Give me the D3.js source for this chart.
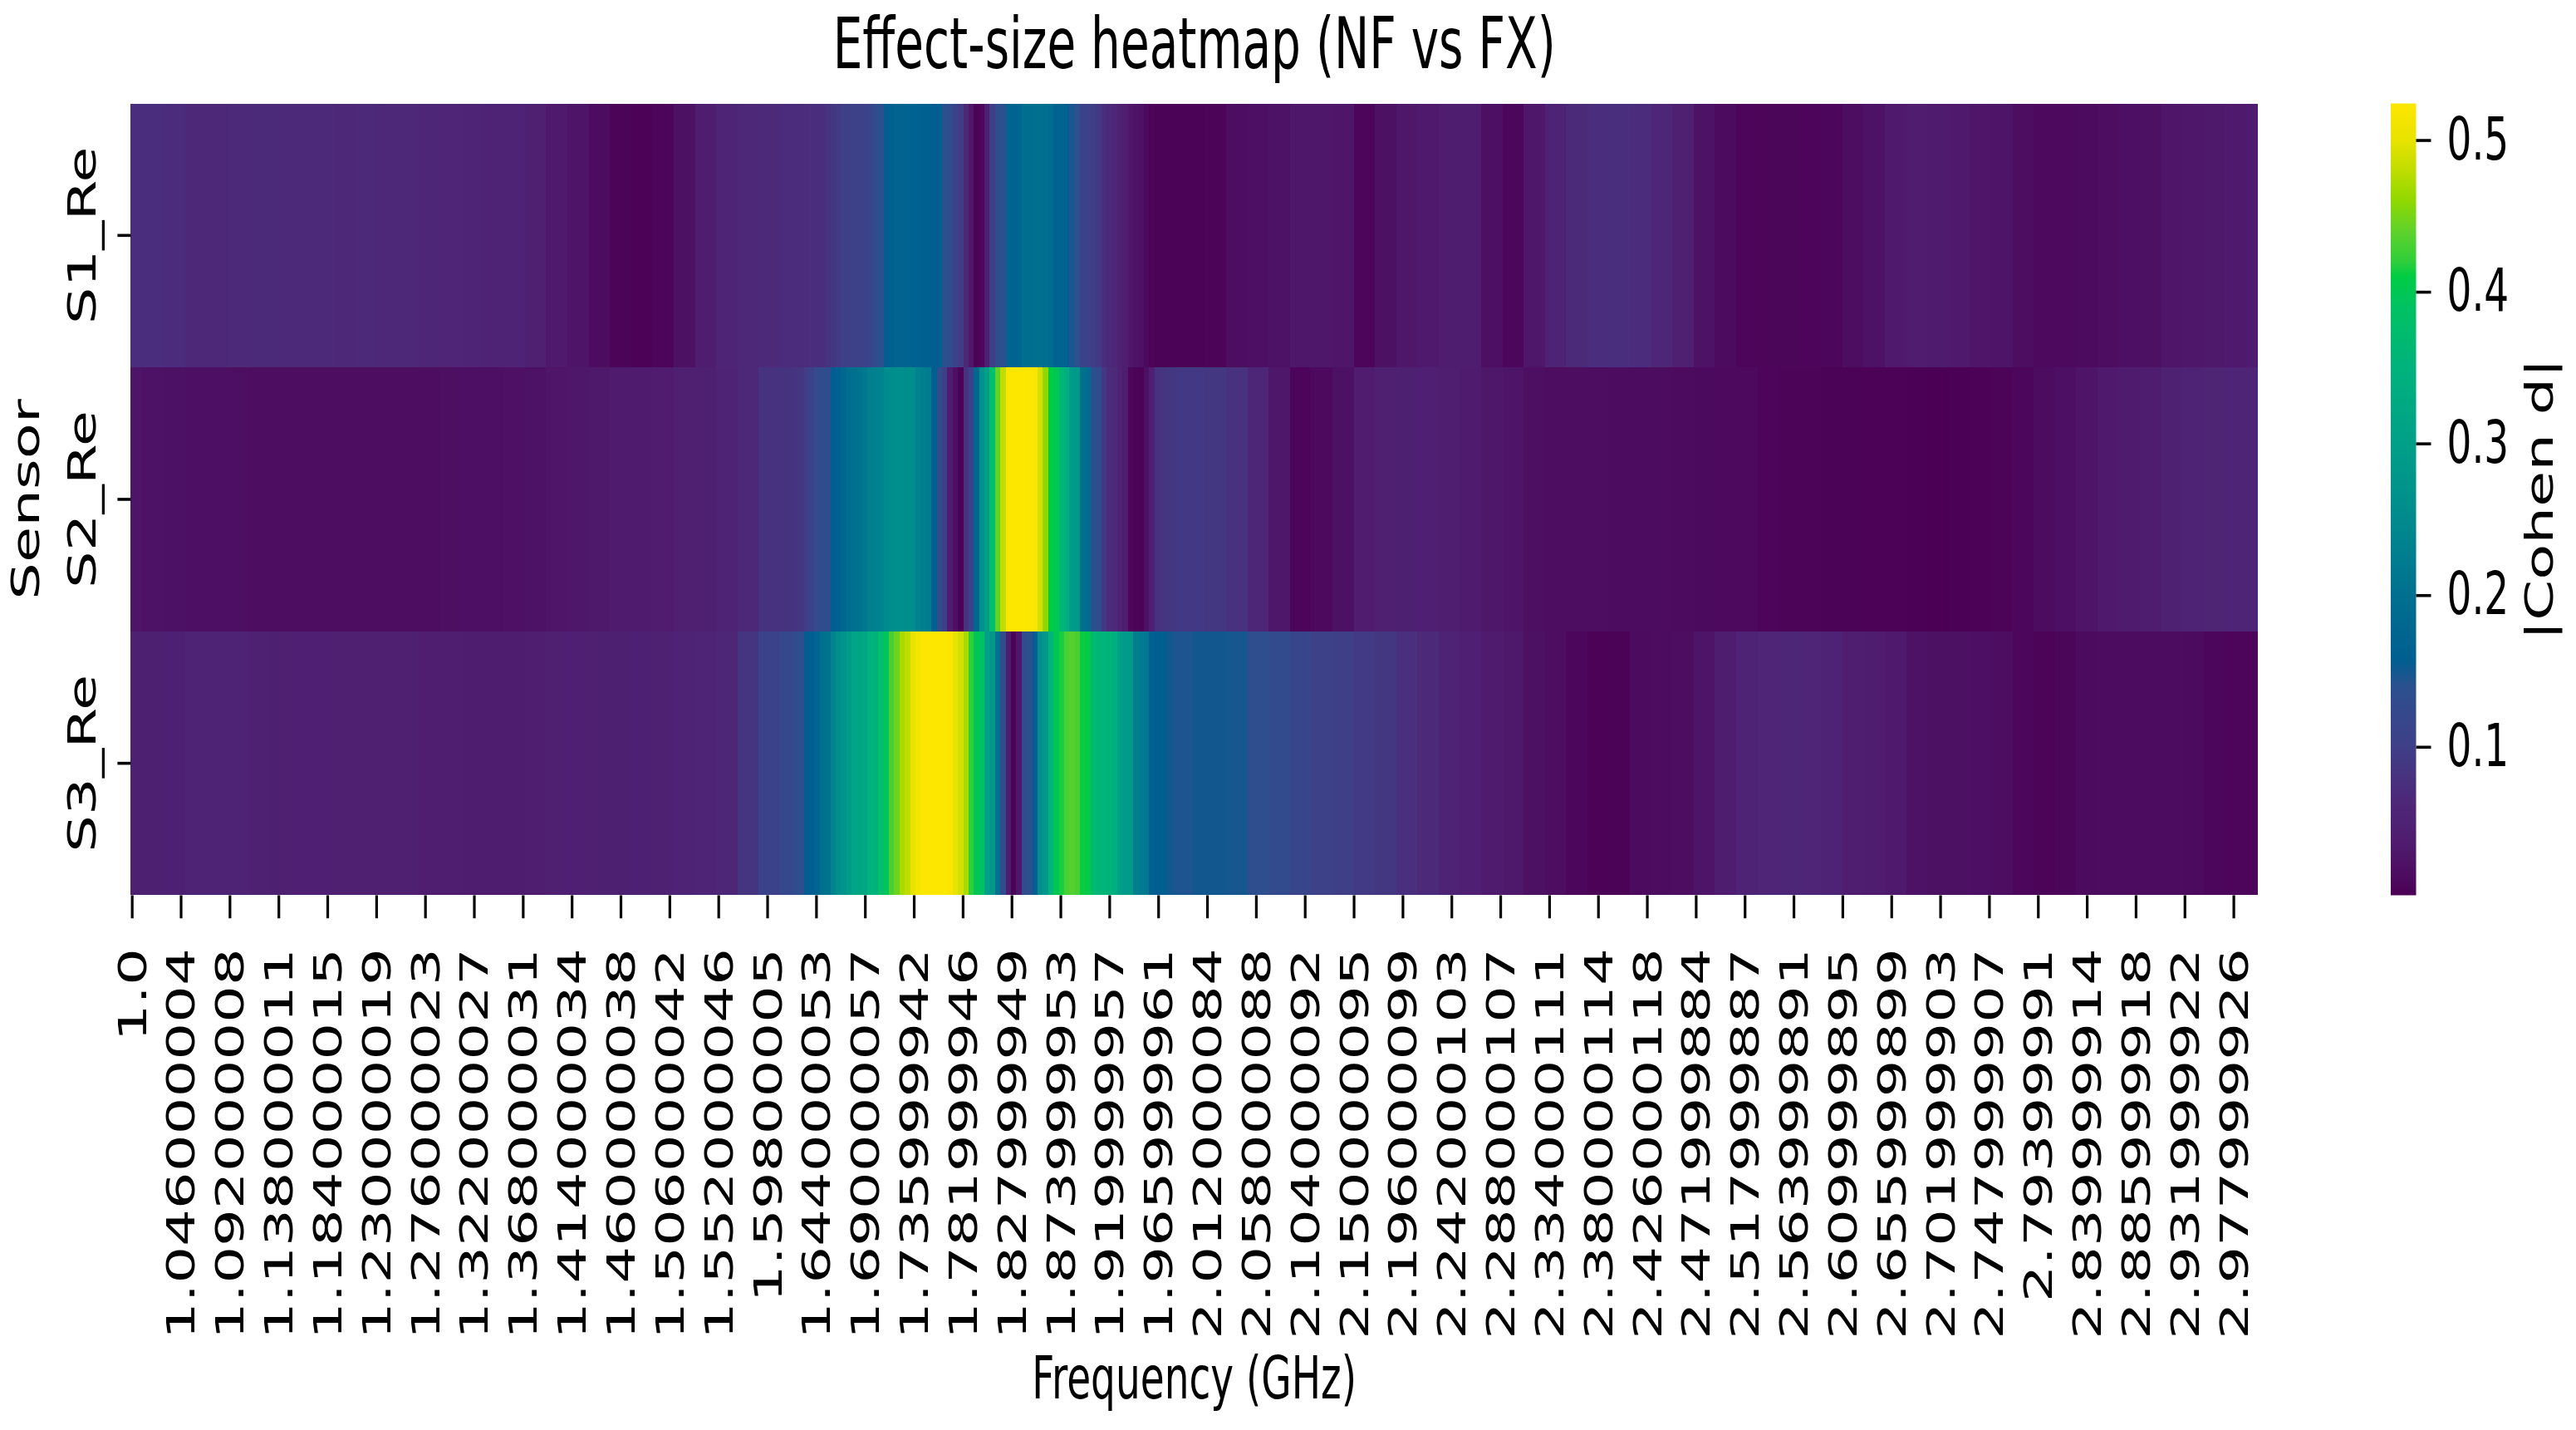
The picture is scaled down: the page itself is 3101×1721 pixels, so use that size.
<!DOCTYPE html>
<html>
<head>
<meta charset="utf-8">
<script src="https://cdn.jsdelivr.net/npm/d3@7"></script>
<style>
  html, body { margin: 0; padding: 0; background: #fff; }
  svg { display: block; }
  text { font-family: "DejaVu Sans", sans-serif; fill: #000; }
</style>
</head>
<body>
<div id="chart"></div>
<script>
// Sensor rows (top to bottom)
var sensors = ["S1_Re", "S2_Re", "S3_Re"];

// Frequency samples (GHz), finer around the 1.7-1.95 GHz peak
var freqs = [1.00, 1.02, 1.04, 1.06, 1.08, 1.10, 1.12, 1.14, 1.16, 1.18, 1.20, 1.22, 1.24, 1.26, 1.28, 1.30,
  1.32, 1.34, 1.36, 1.38, 1.40, 1.42, 1.44, 1.46, 1.48, 1.50, 1.52, 1.54, 1.56, 1.58, 1.60,
  1.620, 1.625, 1.630, 1.635, 1.640, 1.645, 1.650, 1.655, 1.660, 1.665, 1.670, 1.675, 1.680, 1.685, 1.690, 1.695, 1.700,
  1.705, 1.710, 1.715, 1.720, 1.725, 1.730, 1.735, 1.740, 1.745, 1.750, 1.755, 1.760, 1.765, 1.770, 1.775, 1.780, 1.785, 1.790, 1.795, 1.800,
  1.805, 1.810, 1.815, 1.820, 1.825, 1.830, 1.835, 1.840, 1.845, 1.850, 1.855, 1.860, 1.865, 1.870, 1.875, 1.880, 1.885, 1.890, 1.895, 1.900,
  1.905, 1.910, 1.915, 1.920, 1.925, 1.930, 1.935, 1.940, 1.945, 1.950, 1.955, 1.960, 1.965, 1.970, 1.975, 1.980, 1.985, 1.990, 1.995, 2.000,
  2.02, 2.04, 2.06, 2.08, 2.10, 2.12, 2.14, 2.16, 2.18, 2.20,
  2.22, 2.24, 2.26, 2.28, 2.30, 2.32, 2.34, 2.36, 2.38, 2.40,
  2.42, 2.44, 2.46, 2.48, 2.50, 2.52, 2.54, 2.56, 2.58, 2.60,
  2.62, 2.64, 2.66, 2.68, 2.70, 2.72, 2.74, 2.76, 2.78, 2.80,
  2.82, 2.84, 2.86, 2.88, 2.90, 2.92, 2.94, 2.96, 2.98, 3.00];

// |Cohen d| per sensor, same order as freqs
var s1Values = [0.072, 0.072, 0.070, 0.064, 0.062, 0.066, 0.068, 0.068, 0.066, 0.066, 0.065, 0.066, 0.064, 0.062, 0.060, 0.058,
  0.056, 0.054, 0.050, 0.044, 0.034, 0.026, 0.016, 0.006, 0.004, 0.008, 0.022, 0.040, 0.056, 0.062, 0.066,
  0.070, 0.070, 0.070, 0.071, 0.072, 0.072, 0.074, 0.082, 0.088, 0.092, 0.100, 0.102, 0.104, 0.105, 0.108, 0.115, 0.130,
  0.140, 0.160, 0.165, 0.168, 0.168, 0.168, 0.167, 0.166, 0.165, 0.163, 0.160, 0.158, 0.140, 0.130, 0.110, 0.095, 0.060, 0.030, 0.005, 0.010,
  0.045, 0.100, 0.130, 0.140, 0.170, 0.172, 0.175, 0.195, 0.198, 0.200, 0.200, 0.198, 0.190, 0.172, 0.170, 0.165, 0.145, 0.138, 0.110, 0.104,
  0.100, 0.090, 0.072, 0.068, 0.060, 0.048, 0.042, 0.030, 0.025, 0.022, 0.012, 0.006, 0.005, 0.005, 0.005, 0.005, 0.005, 0.005, 0.005, 0.005,
  0.006, 0.018, 0.020, 0.024, 0.030, 0.030, 0.028, 0.008, 0.022, 0.030,
  0.034, 0.040, 0.040, 0.020, 0.010, 0.030, 0.052, 0.068, 0.072, 0.074,
  0.070, 0.060, 0.044, 0.024, 0.014, 0.008, 0.007, 0.007, 0.008, 0.010,
  0.018, 0.024, 0.034, 0.038, 0.036, 0.034, 0.028, 0.026, 0.018, 0.012,
  0.012, 0.014, 0.018, 0.020, 0.022, 0.028, 0.030, 0.032, 0.034, 0.036];

var s2Values = [0.026, 0.024, 0.022, 0.020, 0.020, 0.019, 0.018, 0.018, 0.018, 0.017, 0.017, 0.017, 0.018, 0.018, 0.018, 0.019,
  0.020, 0.020, 0.021, 0.024, 0.028, 0.030, 0.032, 0.035, 0.036, 0.038, 0.043, 0.046, 0.054, 0.064, 0.080,
  0.082, 0.084, 0.086, 0.100, 0.110, 0.125, 0.130, 0.132, 0.158, 0.165, 0.180, 0.195, 0.200, 0.205, 0.215, 0.230, 0.232,
  0.235, 0.252, 0.258, 0.260, 0.260, 0.258, 0.255, 0.235, 0.230, 0.220, 0.160, 0.130, 0.100, 0.040, 0.020, 0.005, 0.080, 0.110, 0.180, 0.270,
  0.300, 0.380, 0.440, 0.480, 0.520, 0.524, 0.524, 0.524, 0.522, 0.520, 0.490, 0.460, 0.410, 0.400, 0.360, 0.340, 0.290, 0.280, 0.200, 0.190,
  0.140, 0.130, 0.090, 0.070, 0.066, 0.050, 0.040, 0.010, 0.006, 0.005, 0.020, 0.045, 0.080, 0.085, 0.088, 0.088, 0.090, 0.090, 0.090, 0.090,
  0.088, 0.078, 0.060, 0.030, 0.008, 0.012, 0.022, 0.038, 0.044, 0.046,
  0.045, 0.042, 0.036, 0.030, 0.026, 0.019, 0.018, 0.018, 0.017, 0.016,
  0.016, 0.015, 0.014, 0.013, 0.012, 0.012, 0.008, 0.006, 0.006, 0.005,
  0.005, 0.004, 0.004, 0.003, 0.002, 0.003, 0.004, 0.006, 0.010, 0.016,
  0.020, 0.026, 0.034, 0.036, 0.040, 0.048, 0.052, 0.055, 0.056, 0.056];

var s3Values = [0.046, 0.046, 0.047, 0.050, 0.052, 0.050, 0.048, 0.046, 0.045, 0.045, 0.044, 0.044, 0.043, 0.043, 0.042, 0.041,
  0.040, 0.040, 0.040, 0.041, 0.043, 0.045, 0.046, 0.046, 0.047, 0.048, 0.052, 0.056, 0.060, 0.085, 0.110,
  0.120, 0.130, 0.135, 0.158, 0.160, 0.170, 0.200, 0.205, 0.240, 0.262, 0.270, 0.290, 0.310, 0.315, 0.320, 0.350, 0.355,
  0.380, 0.395, 0.430, 0.445, 0.470, 0.480, 0.500, 0.515, 0.522, 0.524, 0.524, 0.524, 0.522, 0.520, 0.500, 0.490, 0.470, 0.420, 0.400, 0.390,
  0.300, 0.280, 0.200, 0.130, 0.040, 0.005, 0.030, 0.130, 0.140, 0.160, 0.260, 0.280, 0.350, 0.400, 0.415, 0.430, 0.435, 0.430, 0.412, 0.408,
  0.370, 0.360, 0.358, 0.355, 0.340, 0.300, 0.290, 0.285, 0.230, 0.220, 0.215, 0.165, 0.160, 0.158, 0.152, 0.148, 0.146, 0.145, 0.145, 0.150,
  0.150, 0.148, 0.135, 0.128, 0.115, 0.105, 0.100, 0.092, 0.088, 0.075,
  0.068, 0.052, 0.045, 0.036, 0.032, 0.022, 0.018, 0.010, 0.004, 0.005,
  0.014, 0.016, 0.018, 0.026, 0.040, 0.054, 0.058, 0.060, 0.058, 0.054,
  0.042, 0.040, 0.034, 0.024, 0.022, 0.022, 0.020, 0.018, 0.010, 0.006,
  0.007, 0.014, 0.015, 0.016, 0.016, 0.015, 0.014, 0.010, 0.008, 0.008];

// x tick labels as printed under the heatmap
var xTickLabels = ["1.0", "1.046000004", "1.092000008", "1.138000011", "1.184000015", "1.230000019",
  "1.276000023", "1.322000027", "1.368000031", "1.414000034", "1.460000038", "1.506000042",
  "1.552000046", "1.59800005", "1.644000053", "1.690000057", "1.735999942", "1.781999946",
  "1.827999949", "1.873999953", "1.919999957", "1.965999961", "2.012000084", "2.058000088",
  "2.104000092", "2.150000095", "2.196000099", "2.242000103", "2.288000107", "2.334000111",
  "2.380000114", "2.426000118", "2.471999884", "2.517999887", "2.563999891", "2.609999895",
  "2.655999899", "2.701999903", "2.747999907", "2.79399991", "2.839999914", "2.885999918",
  "2.931999922", "2.977999926"];

var cbarTicks = [0.1, 0.2, 0.3, 0.4, 0.5];

// colour ramp as it looks in the picture's colour bar (viridis-like)
var rampValues = [0.002, 0.013, 0.037, 0.065, 0.10, 0.14, 0.157, 0.20, 0.23, 0.26, 0.30, 0.35, 0.39, 0.41, 0.42, 0.44, 0.46, 0.48, 0.50, 0.524];
var rampColors = ["#4b0055", "#4c0a5e", "#4f1c6f", "#4d2879", "#3f3f87", "#2b508e", "#005e90", "#00708f", "#00808f", "#008f8c",
  "#00a088", "#00b27c", "#00c262", "#00cc44", "#30ce3a", "#60d22a", "#90d800", "#c0dd00", "#e8e300", "#fde700"];

// figure is drawn in a base frame and stretched vertically like the reference
var svgWidth = 3101, svgHeight = 1721;
var baseHeight = 1721 / 1.5;

var margin = { left: 157.4, right: 2718, top: 83, bottom: 718.3 };

var svg = d3.select("#chart")
  .append("svg")
  .attr("width", svgWidth)
  .attr("height", svgHeight)
  .attr("viewBox", "0 0 " + svgWidth + " " + baseHeight)
  .attr("preserveAspectRatio", "none");

// scales
var xScale = d3.scaleLinear()
  .domain([0.999, 3.001])
  .range([margin.left, margin.right]);

var yScale = d3.scaleBand()
  .domain(sensors)
  .range([margin.top, margin.bottom]);

var allValues = s1Values.concat(s2Values, s3Values);
var extent = d3.extent(allValues);

var color = d3.scaleLinear()
  .domain(rampValues)
  .range(rampColors)
  .interpolate(d3.interpolateRgb)
  .clamp(true);

// build the cells
var rows = [s1Values, s2Values, s3Values];
var cells = [];
sensors.forEach(function (name, r) {
  freqs.forEach(function (f, i) {
    var lo = i === 0 ? xScale.domain()[0] : (freqs[i - 1] + f) / 2;
    var hi = i === freqs.length - 1 ? xScale.domain()[1] : (f + freqs[i + 1]) / 2;
    cells.push({ sensor: name, lo: lo, hi: hi, value: rows[r][i] });
  });
});

svg.append("g")
  .selectAll("rect")
  .data(cells)
  .enter()
  .append("rect")
  .attr("x", d => xScale(d.lo))
  .attr("y", d => yScale(d.sensor))
  .attr("width", d => xScale(d.hi) - xScale(d.lo))
  .attr("height", yScale.bandwidth())
  .attr("fill", d => color(d.value))
  .attr("shape-rendering", "crispEdges");

// x axis, labels rotated to read upwards
var bottomAxis = d3.axisBottom(xScale)
  .tickValues(xTickLabels.map(d => +d))
  .tickFormat((d, i) => xTickLabels[i])
  .tickSize(18.5);

var xAxis = svg.append("g")
  .attr("transform", `translate(0, ${margin.bottom})`)
  .call(bottomAxis);
xAxis.select(".domain").remove();
xAxis.selectAll(".tick line").attr("stroke", "#000").attr("stroke-width", 3.2);
xAxis.selectAll(".tick text")
  .attr("x", null)
  .attr("y", null)
  .attr("dy", null)
  .attr("transform", "translate(0, 42.5) rotate(-90)")
  .attr("text-anchor", "end")
  .attr("dominant-baseline", "central")
  .attr("font-size", 47)
  .attr("font-family", "DejaVu Sans")
  .attr("fill", "#000");

// y axis
var leftAxis = d3.axisLeft(yScale).tickSize(16);
var yAxis = svg.append("g")
  .attr("transform", `translate(${margin.left}, 0)`)
  .call(leftAxis);
yAxis.select(".domain").remove();
yAxis.selectAll(".tick line").attr("stroke", "#000").attr("stroke-width", 2.4);
yAxis.selectAll(".tick text")
  .attr("x", null)
  .attr("dy", null)
  .attr("transform", "translate(-42.5, 0) rotate(-90)")
  .attr("text-anchor", "middle")
  .attr("font-size", 47)
  .attr("font-family", "DejaVu Sans")
  .attr("fill", "#000");

// title and axis labels
svg.append("text")
  .attr("x", (margin.left + margin.right) / 2)
  .attr("y", 55)
  .attr("text-anchor", "middle")
  .attr("font-size", 56.5)
  .text("Effect-size heatmap (NF vs FX)");

svg.append("text")
  .attr("x", (margin.left + margin.right) / 2)
  .attr("y", 1122)
  .attr("text-anchor", "middle")
  .attr("font-size", 47)
  .text("Frequency (GHz)");

svg.append("text")
  .attr("transform", `translate(47, ${(margin.top + margin.bottom) / 2}) rotate(-90)`)
  .attr("text-anchor", "middle")
  .attr("font-size", 47)
  .text("Sensor");

// colour bar
var cbar = { x: 2878, width: 30.5 };
var cbarScale = d3.scaleLinear()
  .domain(extent)
  .range([margin.bottom, margin.top]);

var grad = svg.append("defs")
  .append("linearGradient")
  .attr("id", "cbarGrad")
  .attr("x1", 0).attr("y1", 1)
  .attr("x2", 0).attr("y2", 0);

grad.selectAll("stop")
  .data(rampValues)
  .enter()
  .append("stop")
  .attr("offset", d => (d - extent[0]) / (extent[1] - extent[0]))
  .attr("stop-color", d => color(d));

svg.append("rect")
  .attr("x", cbar.x)
  .attr("y", margin.top)
  .attr("width", cbar.width)
  .attr("height", margin.bottom - margin.top)
  .attr("fill", "url(#cbarGrad)");

var rightAxis = d3.axisRight(cbarScale)
  .tickValues(cbarTicks)
  .tickFormat(d3.format(".1f"))
  .tickSize(18)
  .tickPadding(19);

var cAxis = svg.append("g")
  .attr("transform", `translate(${cbar.x + cbar.width}, 0)`)
  .call(rightAxis);
cAxis.select(".domain").remove();
cAxis.selectAll(".tick line").attr("stroke", "#000").attr("stroke-width", 2.4);
cAxis.selectAll(".tick text")
  .attr("font-size", 47)
  .attr("font-family", "DejaVu Sans")
  .attr("fill", "#000");

svg.append("text")
  .attr("transform", `translate(3072.5, ${(margin.top + margin.bottom) / 2}) rotate(-90)`)
  .attr("text-anchor", "middle")
  .attr("font-size", 47)
  .text("|Cohen d|");
</script>
</body>
</html>
